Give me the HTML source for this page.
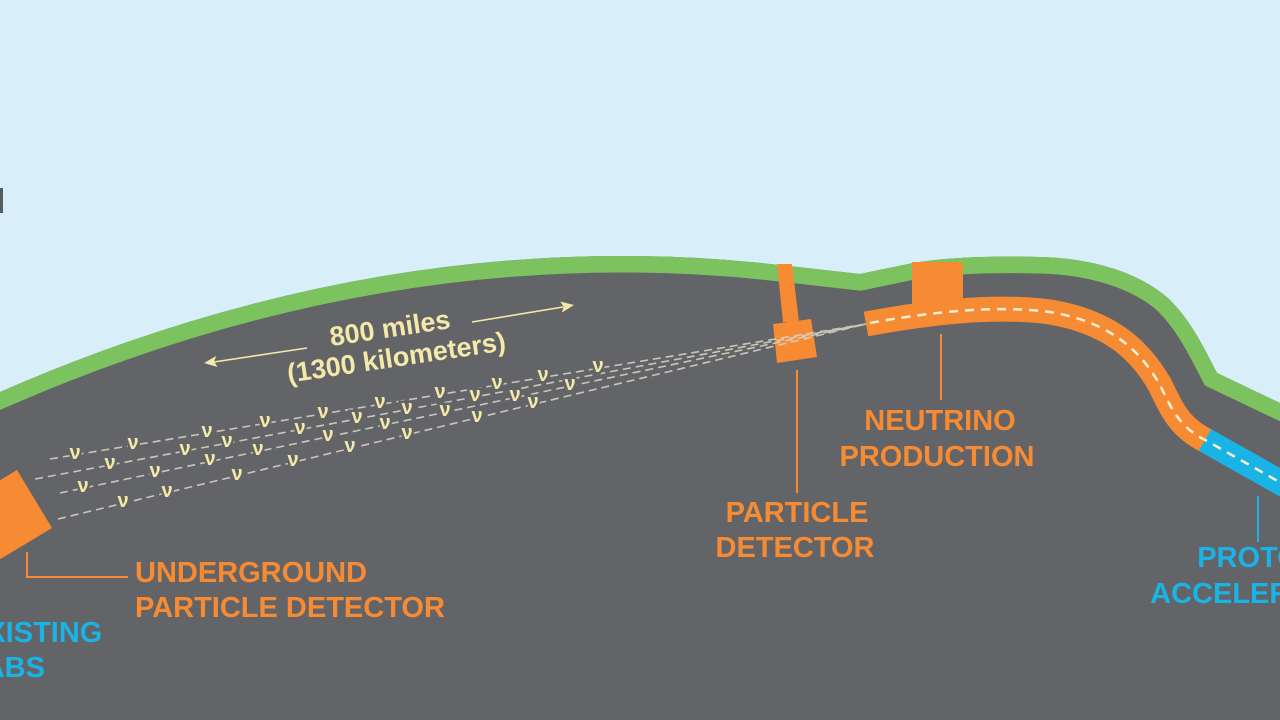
<!DOCTYPE html>
<html><head><meta charset="utf-8"><style>
html,body{margin:0;padding:0;background:#d8eef8;width:1280px;height:720px;overflow:hidden;}
svg{display:block;overflow:hidden;}
text{font-family:"Liberation Sans",Arial,sans-serif;font-weight:bold;}
</style></head><body>
<svg width="1280" height="720" viewBox="0 0 1280 720" xmlns="http://www.w3.org/2000/svg">
<defs>
<clipPath id="g"><path d="M-40,409.5 L0,392 Q311,256 622,256 Q701,256 780,265 L860,274 L913,263 Q960,255 1040,257 C1090,258 1140,272 1170,300 C1192,322 1205,350 1217,373 L1280,403 L1320,422 L1320,720 L-40,720 Z"/></clipPath>
</defs>
<rect width="1280" height="720" fill="#d8eef8"/>
<rect x="0" y="188" width="3" height="25" fill="#5a5b5d"/>
<path d="M0,392 Q311,256 622,256 Q701,256 780,265 L860,274 L913,263 Q960,255 1040,257 C1090,258 1140,272 1170,300 C1192,322 1205,350 1217,373 L1280,403 L1280,720 L0,720 Z" fill="#636467"/>
<path d="M-40,409.5 L0,392 Q311,256 622,256 Q701,256 780,265 L860,274 L913,263 Q960,255 1040,257 C1090,258 1140,272 1170,300 C1192,322 1205,350 1217,373 L1280,403 L1320,422" fill="none" stroke="#7cc35f" stroke-width="33" clip-path="url(#g)"/>

<!-- underground detector -->
<polygon points="17,470 52,528 -3,561 -38,503" fill="#f68b33"/>

<!-- particle detector stem + box -->
<polygon points="777,264 792,264 799,322 783,322" fill="#f68b33"/>
<polygon points="773,324 811,319 817,357 777,363" fill="#f68b33"/>

<!-- beam dashed lines -->
<g stroke="#d6d2c2" stroke-width="1.6" stroke-dasharray="8 5" fill="none" opacity="0.9">
<line x1="50" y1="459" x2="866" y2="324"/>
<line x1="35" y1="479" x2="866" y2="324"/>
<line x1="60" y1="493" x2="866" y2="324"/>
<line x1="58" y1="519" x2="866" y2="324"/>
</g>

<!-- nu symbols -->
<g font-size="20" fill="#f4e9a8" stroke="#636467" stroke-width="5" paint-order="stroke" text-anchor="middle">
<text x="75" y="459">ν</text><text x="133" y="449">ν</text><text x="207" y="437">ν</text><text x="265" y="427">ν</text><text x="323" y="418">ν</text><text x="380" y="408">ν</text><text x="440" y="398">ν</text><text x="497" y="389">ν</text><text x="543" y="381">ν</text><text x="598" y="372">ν</text>
<text x="110" y="469">ν</text><text x="185" y="455">ν</text><text x="227" y="447">ν</text><text x="300" y="434">ν</text><text x="357" y="423">ν</text><text x="407" y="414">ν</text><text x="475" y="401">ν</text>
<text x="83" y="492">ν</text><text x="155" y="477">ν</text><text x="210" y="465">ν</text><text x="258" y="455">ν</text><text x="328" y="441">ν</text><text x="385" y="429">ν</text><text x="445" y="416">ν</text><text x="515" y="401">ν</text><text x="570" y="390">ν</text>
<text x="123" y="507">ν</text><text x="167" y="497">ν</text><text x="237" y="480">ν</text><text x="293" y="466">ν</text><text x="350" y="452">ν</text><text x="407" y="439">ν</text><text x="477" y="422">ν</text><text x="533" y="408">ν</text>
</g>

<!-- neutrino production box -->
<rect x="912" y="262" width="51" height="44" fill="#f68b33"/>
<!-- pipe -->
<path d="M866,324 C920,314 990,304 1050,312 C1110,322 1140,350 1160,385 C1172,410 1180,428 1207,441" fill="none" stroke="#f68b33" stroke-width="25"/>
<path d="M1205,440 L1290,488" fill="none" stroke="#1ab3e6" stroke-width="25"/>
<path d="M870,323 C920,314 990,304 1050,312 C1110,322 1140,350 1160,385 C1172,410 1180,428 1207,441 L1290,488" fill="none" stroke="#fdf0d2" stroke-width="2.5" stroke-dasharray="9 7"/>

<!-- connectors -->
<polyline points="27,552 27,577 128,577" fill="none" stroke="#f68b33" stroke-width="2"/>
<line x1="797" y1="370" x2="797" y2="493" stroke="#f68b33" stroke-width="2"/>
<line x1="941" y1="334" x2="941" y2="400" stroke="#f68b33" stroke-width="2"/>
<line x1="1258" y1="496" x2="1258" y2="542" stroke="#1ab3e6" stroke-width="2"/>

<!-- distance arrows -->
<g stroke="#f4e9a8" stroke-width="1.6" fill="none">
<line x1="307" y1="348" x2="214" y2="362"/>
<line x1="472" y1="322" x2="563" y2="307"/>
</g>
<polygon points="204,363 217.6,367 214,361.5 216.2,356" fill="#f4e9a8"/>
<polygon points="574,305 562,312.5 563.5,306.8 560.4,301.5" fill="#f4e9a8"/>

<g transform="translate(392,342) rotate(-8.5)" font-size="27" fill="#f4e9a8" text-anchor="middle">
<text x="0" y="-5">800 miles</text>
<text x="2" y="25">(1300 kilometers)</text>
</g>

<!-- labels -->
<g font-size="29" fill="#f68b33">
<text x="135" y="582">UNDERGROUND</text>
<text x="135" y="617">PARTICLE DETECTOR</text>
<text x="797" y="522" text-anchor="middle">PARTICLE</text>
<text x="795" y="557" text-anchor="middle">DETECTOR</text>
<text x="940" y="430" text-anchor="middle">NEUTRINO</text>
<text x="937" y="466" text-anchor="middle">PRODUCTION</text>
</g>
<g font-size="29" fill="#1ab3e6">
<text x="-33" y="642">EXISTING</text>
<text x="-34" y="677">LABS</text>
<text x="1259" y="567" text-anchor="middle">PROTON</text>
<text x="1260" y="603" text-anchor="middle">ACCELERATOR</text>
</g>
</svg>
</body></html>
